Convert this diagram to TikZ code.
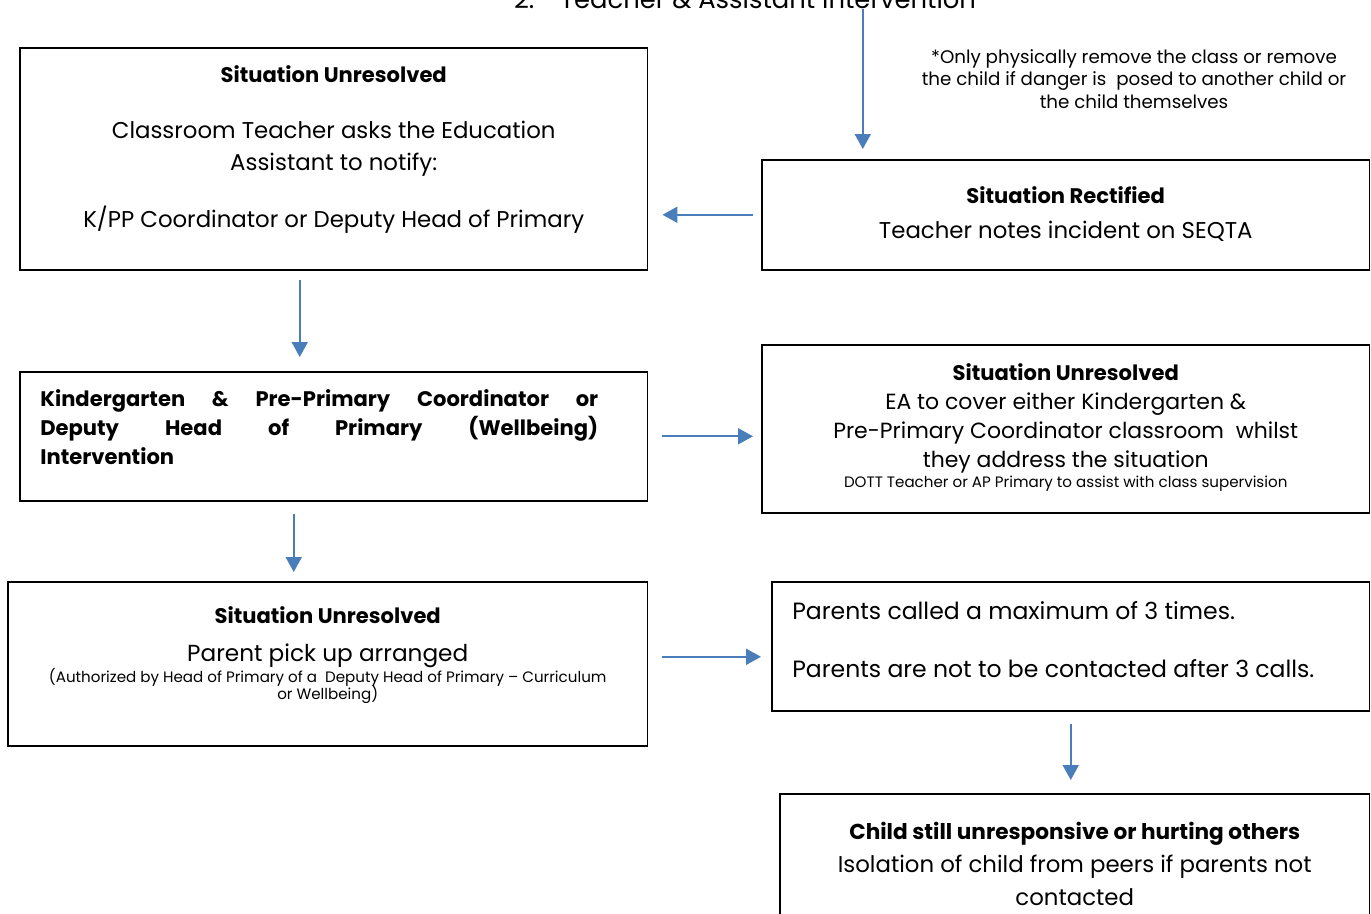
\documentclass[tikz,border=0pt]{standalone}
\usepackage{fontspec}
\setmainfont{Poppins}
\usepackage{xcolor}
\definecolor{arrowblue}{HTML}{4A7EBB}
\usetikzlibrary{arrows.meta, positioning}

\begin{document}
\begin{tikzpicture}[
    x=0.02cm, y=-0.02cm,
    box/.style={rectangle, draw=black, line width=0.9pt, anchor=north west, inner sep=0pt},
    txt/.style={align=center, inner sep=0pt, font=\fontsize{13}{18}\selectfont},
    just/.style={align=justify, inner sep=0pt, text width=11.16cm, font=\bfseries\fontsize{12}{16.5}\selectfont},
    note/.style={align=center, inner sep=0pt, font=\fontsize{10.4}{12.8}\selectfont},
    arrow/.style={-{Triangle[length=0.3cm, width=0.32cm]}, line width=1.1pt, draw=arrowblue}
]
\useasboundingbox (0,0) rectangle (1371,913);

% Heading (cut at the top)
\node[inner sep=0pt, anchor=base, font=\fontsize{14.7}{17}\selectfont] (title) at (745,8) {2.\quad Teacher \& Assistant Intervention};
\node[note, anchor=north] (note) at (1134,49) {*Only physically remove the class or remove\\ the child if danger is\ \ posed to another child or\\ the child themselves};

% Boxes - left column
\node[box, minimum width=12.56cm, minimum height=4.44cm] (boxA) at (19,47) {};
\node[box, minimum width=12.56cm, minimum height=2.58cm] (boxC) at (19,371) {};
\node[box, minimum width=12.8cm, minimum height=3.28cm] (boxE) at (7,581) {};

% Boxes - right column
\node[box, minimum width=12.16cm, minimum height=2.2cm] (boxB) at (761,159) {};
\node[box, minimum width=12.16cm, minimum height=3.36cm] (boxD) at (761,344) {};
\node[box, minimum width=11.96cm, minimum height=2.58cm] (boxF) at (771,581) {};
\node[box, minimum width=11.8cm, minimum height=2.9cm] (boxG) at (779,793) {};

% Texts
\node[txt, below=0.36cm of boxA.north] (textA) {{\fontsize{12}{18}\selectfont\bfseries Situation Unresolved}\\[0.5cm] Classroom Teacher asks the Education\\ Assistant to notify:\\[0.5cm] K/PP Coordinator or Deputy Head of Primary};
\node[txt, below=0.54cm of boxB.north] (textB) {{\fontsize{12}{18}\selectfont\bfseries Situation Rectified}\\[2pt] Teacher notes incident on SEQTA};
\node[just, below right=0.36cm and 0.42cm of boxC.north west] (textC) {Kindergarten \& Pre-Primary Coordinator or\linebreak Deputy Head of Primary (Wellbeing)\linebreak Intervention};
\node[txt, below=0.38cm of boxD.north, font=\fontsize{12.5}{16.5}\selectfont] (textD) {{\fontsize{12}{16.5}\selectfont\bfseries Situation Unresolved}\\ EA to cover either Kindergarten \&\\ Pre-Primary Coordinator classroom\ \ whilst\\ they address the situation\\[-0.18cm] {\fontsize{8.6}{10}\selectfont DOTT Teacher or AP Primary to assist with class supervision}};
\node[txt, below=0.5cm of boxE.north, font=\fontsize{13.2}{18}\selectfont] (textE) {{\fontsize{12}{18}\selectfont\bfseries Situation Unresolved}\\[0.13cm] Parent pick up arranged\\[-0.21cm] {\fontsize{8.6}{10}\selectfont (Authorized by Head of Primary of a\ \ Deputy Head of Primary -- Curriculum}\\[-0.29cm] {\fontsize{8.6}{10}\selectfont or Wellbeing)}};
\node[txt, align=left, below right=0.4cm and 0.42cm of boxF.north west, font=\fontsize{13.4}{18}\selectfont] (textF) {Parents called a maximum of 3 times.\\[0.53cm] Parents are not to be contacted after 3 calls.};
\node[txt, below=0.58cm of boxG.north] (textG) {{\fontsize{12.3}{18}\selectfont\bfseries Child still unresponsive or hurting others}\\[0.03cm] Isolation of child from peers if parents not\\[0.03cm] contacted};

% Arrows
\draw[arrow, shorten >=0.2cm] ([xshift=-4.06cm]boxB.north |- title.south) -- ([xshift=-4.06cm]boxB.north);
\draw[arrow, shorten <=0.16cm, shorten >=0.28cm] (boxB.west) -- (boxB.west -| boxA.east);
\draw[arrow, shorten <=0.18cm, shorten >=0.28cm] ([xshift=-0.68cm]boxA.south) -- ([xshift=-0.68cm]boxA.south |- boxC.north);
\draw[arrow, shorten <=0.28cm, shorten >=0.16cm] (boxC.east) -- (boxC.east -| boxD.west);
\draw[arrow, shorten <=0.24cm, shorten >=0.18cm] ([xshift=-0.8cm]boxC.south) -- ([xshift=-0.8cm]boxC.south |- boxE.north);
\draw[arrow, shorten <=0.28cm, shorten >=0.2cm] ([yshift=0.14cm]boxE.east) -- ([yshift=0.14cm]boxE.east -| boxF.west);
\draw[arrow, shorten <=0.24cm, shorten >=0.26cm] (boxF.south) -- (boxF.south |- boxG.north);

\end{tikzpicture}
\end{document}
